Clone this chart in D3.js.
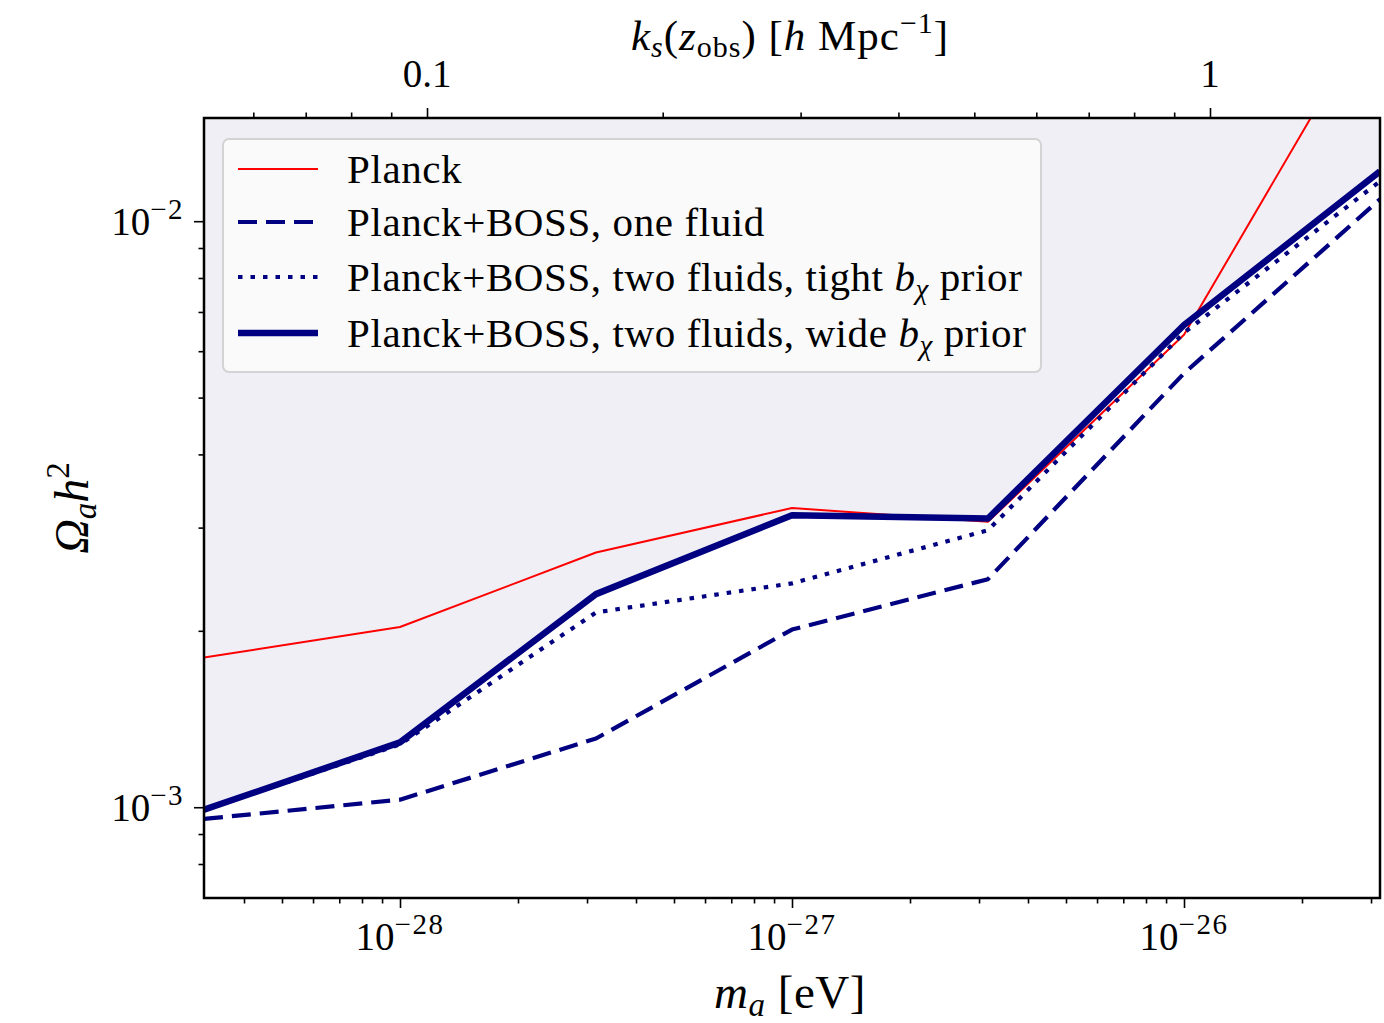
<!DOCTYPE html>
<html>
<head>
<meta charset="utf-8">
<script src="https://cdn.jsdelivr.net/npm/d3@7"></script>
<style>
  html, body { margin: 0; padding: 0; background: #ffffff; }
  svg { display: block; }
  text { font-family: "Liberation Serif", "DejaVu Serif", serif; fill: #000; }
</style>
</head>
<body>
<svg id="chart" width="1384" height="1023"></svg>
<script>
// ---------------- data ----------------
const massExp = [-28.5, -28, -27.5, -27, -26.5, -26, -25.5];   // log10(m_a / eV)
const planck      = [1.80e-3, 2.03e-3, 2.72e-3, 3.24e-3, 3.07e-3, 6.40e-3, 2.39e-2];
const oneFluid    = [0.955e-3, 1.03e-3, 1.31e-3, 2.01e-3, 2.45e-3, 5.50e-3, 1.09e-2];
const tightPrior  = [0.99e-3, 1.28e-3, 2.15e-3, 2.41e-3, 2.97e-3, 6.45e-3, 1.17e-2];
const widePrior   = [0.99e-3, 1.29e-3, 2.31e-3, 3.15e-3, 3.11e-3, 6.65e-3, 1.216e-2];

const xDomain = [Math.pow(10, -28.5), Math.pow(10, -25.5)];
const yDomain = [7e-4, 1.5e-2];
const kDomain = [0.0519, 1.6486];

const xMajor = [1e-28, 1e-27, 1e-26];
const xMajorExp = ["28", "27", "26"];
const xMinor = [4e-29,5e-29,6e-29,7e-29,8e-29,9e-29,
                2e-28,3e-28,4e-28,5e-28,6e-28,7e-28,8e-28,9e-28,
                2e-27,3e-27,4e-27,5e-27,6e-27,7e-27,8e-27,9e-27,
                2e-26,3e-26];
const yMajor = [1e-3, 1e-2];
const yMajorExp = ["3", "2"];
const yMinor = [8e-4, 9e-4, 2e-3,3e-3,4e-3,5e-3,6e-3,7e-3,8e-3,9e-3];
const kMajor = [0.1, 1];
const kMajorLabels = ["0.1", "1"];
const kMinor = [0.06,0.07,0.08,0.09,0.2,0.3,0.4,0.5,0.6,0.7,0.8,0.9];

const legendLabels = [
  {pre: "Planck", b: false, post: ""},
  {pre: "Planck+BOSS, one fluid", b: false, post: ""},
  {pre: "Planck+BOSS, two fluids, tight ", b: true, post: " prior"},
  {pre: "Planck+BOSS, two fluids, wide ", b: true, post: " prior"}
];

// ---------------- layout ----------------
const L = 204, R = 1380, T = 118, B = 898;
const svg = d3.select("#chart");

const x = d3.scaleLog().domain(xDomain).range([L, R]);
const y = d3.scaleLog().domain(yDomain).range([B, T]);
const xk = d3.scaleLog().domain(kDomain).range([L, R]);

const navy = "#000080", red = "#ff0000";

svg.append("defs").append("clipPath").attr("id", "plotclip")
  .append("rect").attr("x", L).attr("y", T).attr("width", R - L).attr("height", B - T);

const plot = svg.append("g").attr("clip-path", "url(#plotclip)");

// shaded excluded region (above wide-prior curve)
const pts = (arr) => massExp.map((e, i) => [Math.pow(10, e), arr[i]]);
const area = d3.area().x(d => x(d[0])).y0(T).y1(d => y(d[1]));
plot.append("path").datum(pts(widePrior)).attr("d", area).attr("fill", "#efeff5");

const line = d3.line().x(d => x(d[0])).y(d => y(d[1]));
const series = [
  {data: planck, color: red, w: 2, dash: null},
  {data: oneFluid, color: navy, w: 4.2, dash: "19,9"},
  {data: tightPrior, color: navy, w: 4.2, dash: "4.5,8"},
  {data: widePrior, color: navy, w: 6.5, dash: null}
];
series.forEach(s => {
  plot.append("path").datum(pts(s.data)).attr("d", line)
    .attr("fill", "none").attr("stroke", s.color).attr("stroke-width", s.w)
    .attr("stroke-dasharray", s.dash).attr("stroke-linejoin", "round")
    .attr("stroke-linecap", "butt");
});

// ---------------- axes (ticks) ----------------
function tickAxis(axisFn, scale, vals, size, transform) {
  const g = svg.append("g").attr("transform", transform)
    .call(axisFn(scale).tickValues(vals).tickSize(size).tickFormat(""));
  g.select(".domain").remove();
  g.selectAll(".tick line").attr("stroke", "#000").attr("stroke-width", 1.6);
  return g;
}
tickAxis(d3.axisBottom, x, xMajor, 10, `translate(0,${B})`);
tickAxis(d3.axisBottom, x, xMinor, 5.5, `translate(0,${B})`);
tickAxis(d3.axisLeft, y, yMajor, 10, `translate(${L},0)`);
tickAxis(d3.axisLeft, y, yMinor, 5.5, `translate(${L},0)`);
tickAxis(d3.axisTop, xk, kMajor, 10, `translate(0,${T})`);
tickAxis(d3.axisTop, xk, kMinor, 5.5, `translate(0,${T})`);

// frame
svg.append("rect").attr("x", L).attr("y", T).attr("width", R - L).attr("height", B - T)
  .attr("fill", "none").attr("stroke", "#000").attr("stroke-width", 2.5);

// ---------------- tick labels ----------------
const tickFont = 39;
xMajor.forEach((v, i) => {
  const t = svg.append("text").attr("x", x(v)).attr("y", 950)
    .attr("text-anchor", "middle").attr("font-size", tickFont);
  t.append("tspan").text("10");
  t.append("tspan").attr("dy", -16).attr("font-size", 29).attr("letter-spacing", 1.5)
    .text("\u2212" + xMajorExp[i]);
});
yMajor.forEach((v, i) => {
  const t = svg.append("text").attr("x", 184).attr("y", y(v) + 14)
    .attr("text-anchor", "end").attr("font-size", tickFont);
  t.append("tspan").text("10");
  t.append("tspan").attr("dy", -16).attr("font-size", 29).attr("letter-spacing", 1.5)
    .text("\u2212" + yMajorExp[i]);
});
kMajor.forEach((v, i) => {
  svg.append("text").attr("x", xk(v)).attr("y", 87)
    .attr("text-anchor", "middle").attr("font-size", tickFont).text(kMajorLabels[i]);
});

// ---------------- axis labels ----------------
{
  const t = svg.append("text").attr("x", 790).attr("y", 1008)
    .attr("text-anchor", "middle").attr("font-size", 47).attr("letter-spacing", 0.5);
  t.append("tspan").attr("font-style", "italic").text("m");
  t.append("tspan").attr("font-style", "italic").attr("font-size", 33).attr("dy", 8).text("a");
  t.append("tspan").attr("dy", -8).text(" [eV]");
}
{
  const t = svg.append("text").attr("x", 790).attr("y", 50)
    .attr("text-anchor", "middle").attr("font-size", 43).attr("letter-spacing", 1);
  t.append("tspan").attr("font-style", "italic").text("k");
  t.append("tspan").attr("font-style", "italic").attr("font-size", 30).attr("dy", 7).text("s");
  t.append("tspan").attr("dy", -7).text("(");
  t.append("tspan").attr("font-style", "italic").text("z");
  t.append("tspan").attr("font-size", 30).attr("dy", 7).text("obs");
  t.append("tspan").attr("dy", -7).text(")  [");
  t.append("tspan").attr("font-style", "italic").text("h");
  t.append("tspan").text(" Mpc");
  t.append("tspan").attr("font-size", 30).attr("dy", -17).text("\u22121");
  t.append("tspan").attr("dy", 17).text("]");
}
{
  const t = svg.append("text").attr("transform", "translate(88,508) rotate(-90)")
    .attr("text-anchor", "middle").attr("font-size", 48);
  t.append("tspan").attr("font-style", "italic").text("\u03A9");
  t.append("tspan").attr("font-style", "italic").attr("font-size", 33).attr("dy", 8).text("a");
  t.append("tspan").attr("dy", -8).attr("font-style", "italic").text("h");
  t.append("tspan").attr("font-size", 33).attr("dy", -19).text("2");
}

// ---------------- legend ----------------
const lg = svg.append("g");
lg.append("rect").attr("x", 223).attr("y", 139).attr("width", 818).attr("height", 233)
  .attr("rx", 6).attr("fill", "#fafafa").attr("fill-opacity", 0.95)
  .attr("stroke", "#d3d3d3").attr("stroke-width", 2);
const rowY = [169, 222, 277, 333];
legendLabels.forEach((lab, i) => {
  const s = series[i];
  lg.append("line").attr("x1", 238).attr("x2", 318).attr("y1", rowY[i]).attr("y2", rowY[i])
    .attr("stroke", s.color).attr("stroke-width", s.w).attr("stroke-dasharray", s.dash);
  const t = lg.append("text").attr("x", 347).attr("y", rowY[i] + 14)
    .attr("font-size", 41).attr("letter-spacing", 0.6);
  t.append("tspan").text(lab.pre);
  if (lab.b) {
    t.append("tspan").attr("font-style", "italic").text("b");
    t.append("tspan").attr("font-style", "italic").attr("font-size", 29).attr("dy", 8).text("\u03C7");
    t.append("tspan").attr("dy", -8).text(lab.post);
  }
});
</script>
</body>
</html>
